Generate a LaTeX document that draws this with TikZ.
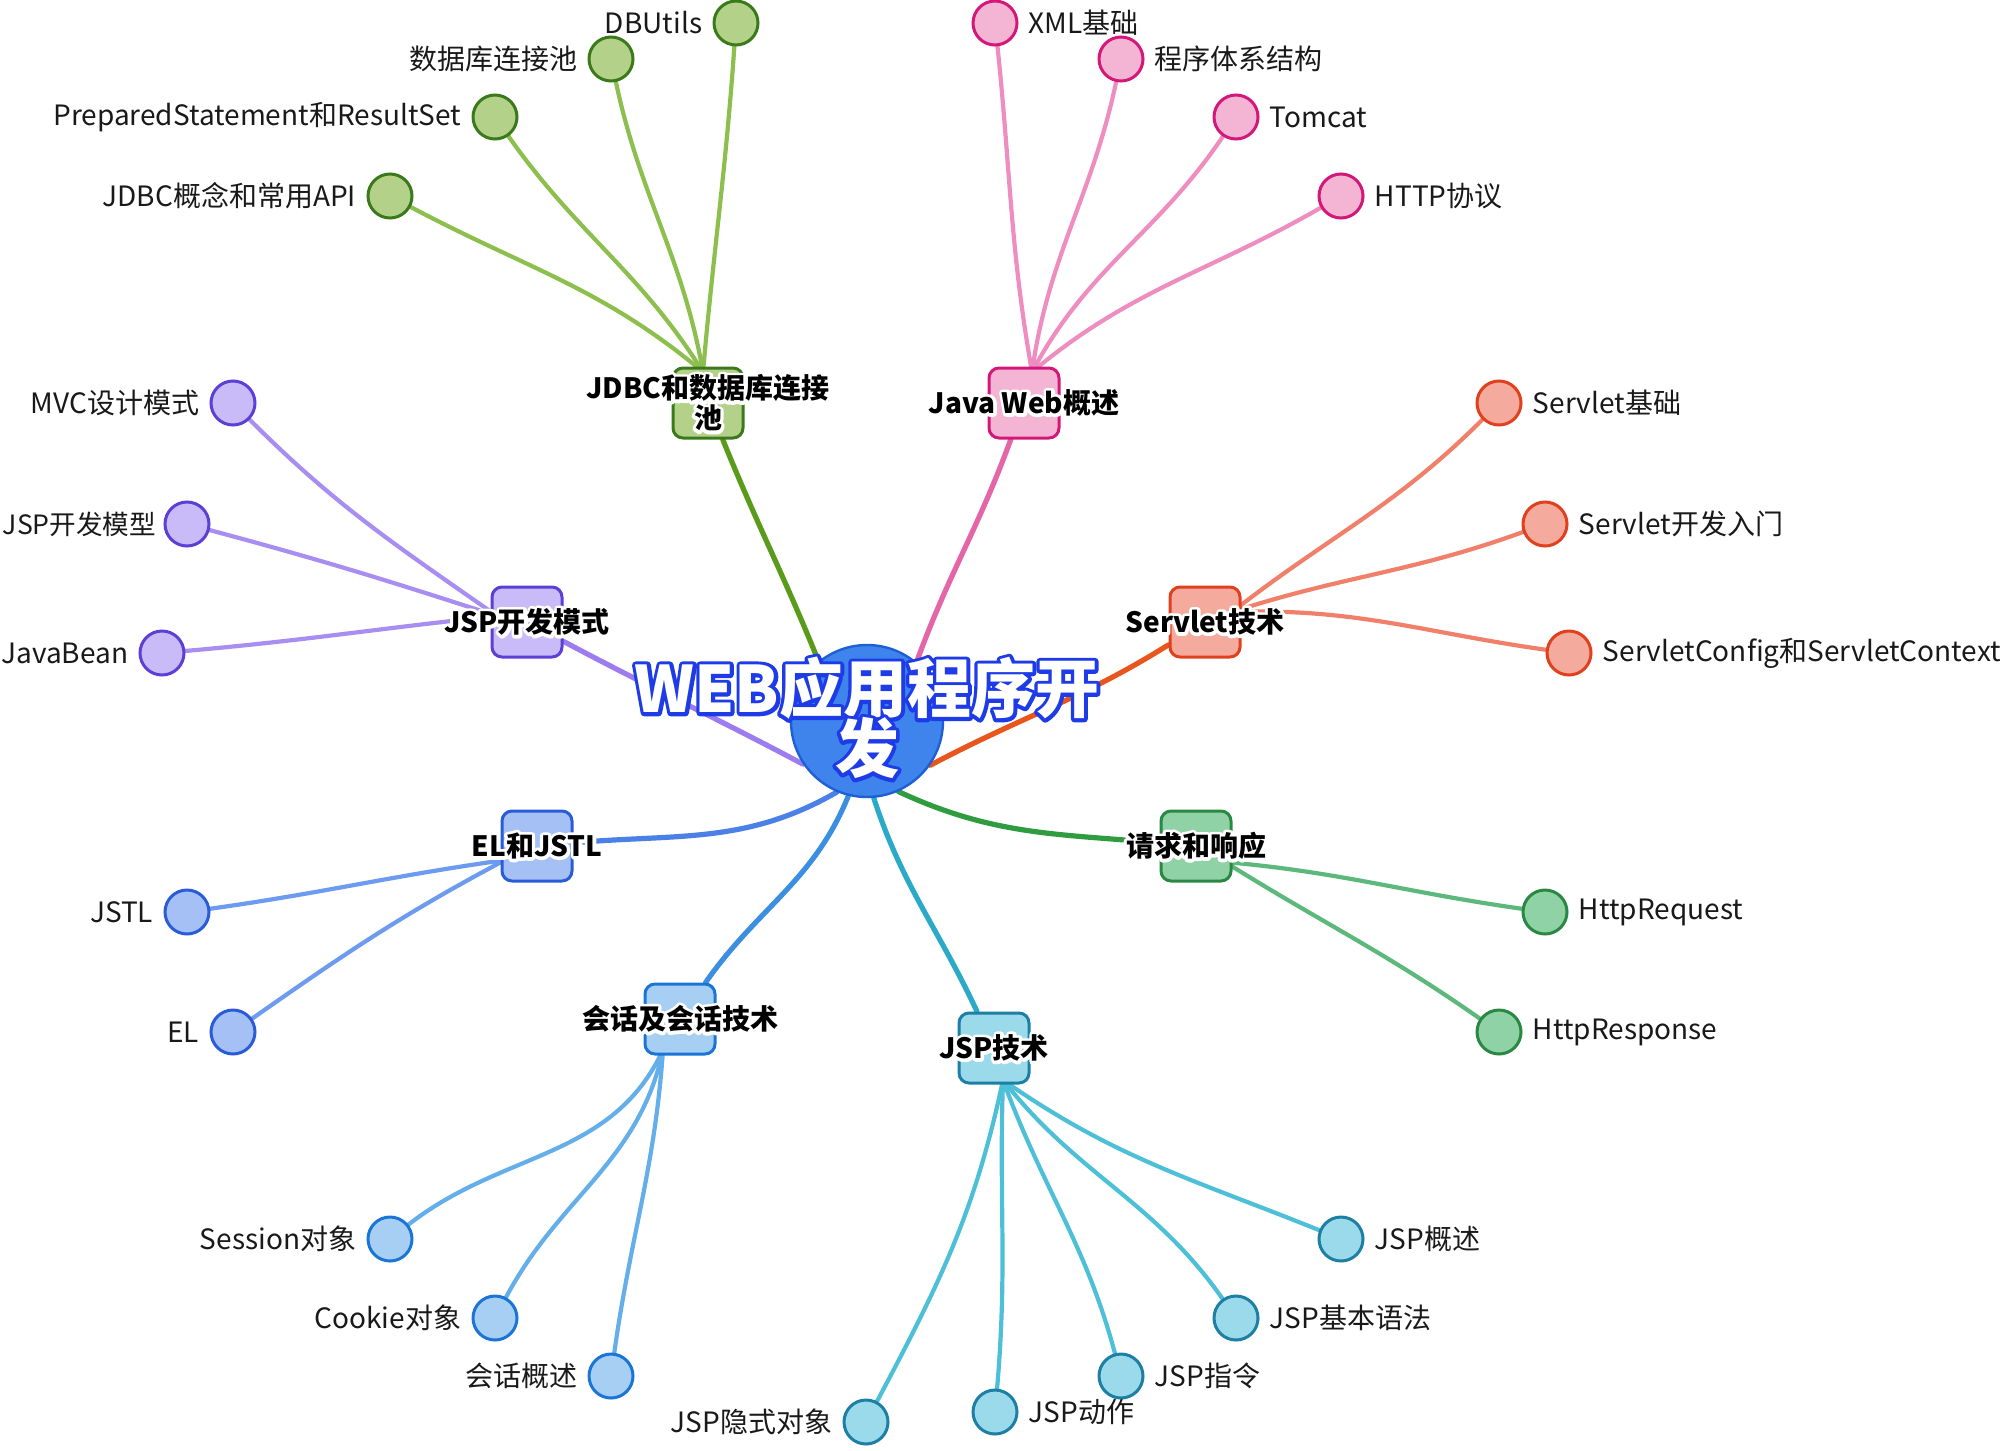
\documentclass[tikz,border=0pt]{standalone}
\usepackage{fontspec}
\setmainfont{Noto Sans CJK SC}
\usetikzlibrary{backgrounds}
\definecolor{gL}{HTML}{8DBF4F}\definecolor{gF}{HTML}{B3D188}\definecolor{gB}{HTML}{3B7A1A}\definecolor{gM}{HTML}{5B9B1C}
\definecolor{pL}{HTML}{EE8DC0}\definecolor{pF}{HTML}{F4B5D5}\definecolor{pB}{HTML}{D4187A}\definecolor{pM}{HTML}{E465A8}
\definecolor{vL}{HTML}{A98EF2}\definecolor{vF}{HTML}{C9BBF7}\definecolor{vB}{HTML}{5B3FD6}\definecolor{vM}{HTML}{9C7CEE}
\definecolor{oL}{HTML}{F0806A}\definecolor{oF}{HTML}{F4AA9C}\definecolor{oB}{HTML}{E0401E}\definecolor{oM}{HTML}{E8561E}
\definecolor{bL}{HTML}{6C9BEF}\definecolor{bF}{HTML}{A4C0F5}\definecolor{bB}{HTML}{2A5BD8}\definecolor{bM}{HTML}{4B80E6}
\definecolor{rL}{HTML}{5DB87C}\definecolor{rF}{HTML}{8ED2A5}\definecolor{rB}{HTML}{2A8843}\definecolor{rM}{HTML}{2F9C40}
\definecolor{sL}{HTML}{64AEEA}\definecolor{sF}{HTML}{A6CFF3}\definecolor{sB}{HTML}{1A75D6}\definecolor{sM}{HTML}{3C8FE0}
\definecolor{tL}{HTML}{4DC0D8}\definecolor{tF}{HTML}{9ADAEA}\definecolor{tB}{HTML}{1C7FA3}\definecolor{tM}{HTML}{2BAAC8}
\definecolor{cF}{HTML}{3F84EC}\definecolor{cB}{HTML}{1F5FD6}\definecolor{cT}{HTML}{1E3BE8}
% outlined text: stroke copy behind, normal copy on top
\newcommand{\outlined}[3]{\leavevmode\rlap{\special{pdf:literal direct q 2 Tr #2 w 1 j 1 J}\textcolor{#1}{#3}\special{pdf:literal direct Q}}#3}
\newcommand{\brtext}[1]{\outlined{white}{3.2}{#1}}
\newcommand{\cttext}[1]{\outlined{cT}{3.6}{#1}}
\begin{document}
\begin{tikzpicture}[x=0.5pt,y=0.5pt,
  leaf/.style={circle, draw=#1B, fill=#1F, line width=1.5pt, minimum size=22pt, inner sep=0pt},
  brbox/.style={rounded corners=5pt, draw=#1B, fill=#1F, line width=1.5pt, minimum size=35pt, inner sep=0pt},
  lbl/.style={font=\fontsize{14}{16}\selectfont, text=black!90, inner sep=0pt},
  brl/.style={font=\fontsize{14}{15}\selectfont\bfseries, text=black, inner sep=0pt, align=center},
  sub/.style={draw=#1L, line width=2.1pt, line cap=round},
  mainl/.style={draw=#1M, line width=2.6pt, line cap=round}]
\useasboundingbox (0,0) rectangle (2000,-1450);

% centre
\node[circle, fill=cF, draw=cB, line width=1.2pt, minimum size=76pt, inner sep=0pt] (c) at (867,-721) {};

% branches
\node[brbox=g] (J) at (708,-403) {};
\node[brbox=p] (W) at (1024,-403) {};
\node[brbox=v] (P) at (527,-622) {};
\node[brbox=o] (S) at (1205,-622) {};
\node[brbox=b] (E) at (537,-846) {};
\node[brbox=r] (R) at (1196,-846) {};
\node[brbox=s] (H) at (680,-1019) {};
\node[brbox=t] (T) at (994,-1048) {};

% leaves green
\node[leaf=g] (g1) at (736,-23) {};
\node[leaf=g] (g2) at (611,-59) {};
\node[leaf=g] (g3) at (495,-117) {};
\node[leaf=g] (g4) at (390,-196) {};
% pink
\node[leaf=p] (p1) at (995,-23) {};
\node[leaf=p] (p2) at (1121,-59) {};
\node[leaf=p] (p3) at (1236,-117) {};
\node[leaf=p] (p4) at (1341,-196) {};
% purple
\node[leaf=v] (v1) at (233,-403) {};
\node[leaf=v] (v2) at (187,-524) {};
\node[leaf=v] (v3) at (162,-653) {};
% orange
\node[leaf=o] (o1) at (1499,-403) {};
\node[leaf=o] (o2) at (1545,-524) {};
\node[leaf=o] (o3) at (1569,-653) {};
% EL
\node[leaf=b] (b1) at (187,-912) {};
\node[leaf=b] (b2) at (233,-1032) {};
% request
\node[leaf=r] (r1) at (1545,-912) {};
\node[leaf=r] (r2) at (1499,-1032) {};
% session
\node[leaf=s] (s1) at (390,-1239) {};
\node[leaf=s] (s2) at (495,-1318) {};
\node[leaf=s] (s3) at (611,-1376) {};
% JSP
\node[leaf=t] (t1) at (1341,-1239) {};
\node[leaf=t] (t2) at (1236,-1318) {};
\node[leaf=t] (t3) at (1121,-1376) {};
\node[leaf=t] (t4) at (995,-1412) {};
\node[leaf=t] (t5) at (866,-1422) {};

% anchors
\coordinate (Ja) at (703,-372);
\coordinate (Wa) at (1032,-372);
\coordinate (Pa) at (497,-616);
\coordinate (Sa) at (1232,-612);
\coordinate (Ea) at (505,-860);
\coordinate (Ra) at (1225,-862);
\coordinate (Ha) at (663,-1050);
\coordinate (Ta) at (1003,-1080);

\begin{pgfonlayer}{background}
% main connectors
\draw[mainl=g] (c.129) to[out=112,in=-68] (J);
\draw[mainl=p] (c.50) to[out=70,in=-110] (W);
\draw[mainl=v] (c.214) to[out=152,in=-28] (P);
\draw[mainl=o] (c.-35) to[out=28,in=-148] (S);
\draw[mainl=b] (c.-113) to[out=-150,in=5] (E);
\draw[mainl=r] (c.-66) to[out=-25,in=175] (R);
\draw[mainl=s] (c.-104) to[out=-112,in=55] (H);
\draw[mainl=t] (c.-85) to[out=-72,in=115] (T);
% green
\draw[sub=g] (Ja) to[out=85,in=-94] (g1);
\draw[sub=g] (Ja) to[out=100,in=-78] (g2);
\draw[sub=g] (Ja) to[out=122,in=-55] (g3);
\draw[sub=g] (Ja) to[out=140,in=-28] (g4);
% pink
\draw[sub=p] (Wa) to[out=100,in=-84] (p1);
\draw[sub=p] (Wa) to[out=82,in=-102] (p2);
\draw[sub=p] (Wa) to[out=62,in=-124] (p3);
\draw[sub=p] (Wa) to[out=40,in=-150] (p4);
% purple
\draw[sub=v] (Pa) to[out=145,in=-45] (v1);
\draw[sub=v] (Pa) to[out=162,in=-15] (v2);
\draw[sub=v] (Pa) to[out=186,in=5] (v3);
% orange
\draw[sub=o] (Sa) to[out=38,in=-135] (o1);
\draw[sub=o] (Sa) to[out=18,in=-160] (o2);
\draw[sub=o] (Sa) to[out=2,in=172] (o3);
% EL
\draw[sub=b] (Ea) to[out=188,in=8] (b1);
\draw[sub=b] (Ea) to[out=208,in=35] (b2);
% request
\draw[sub=r] (Ra) to[out=-5,in=172] (r1);
\draw[sub=r] (Ra) to[out=-32,in=145] (r2);
% session
\draw[sub=s] (Ha) to[out=-115,in=38] (s1);
\draw[sub=s] (Ha) to[out=-102,in=62] (s2);
\draw[sub=s] (Ha) to[out=-94,in=82] (s3);
% JSP
\draw[sub=t] (Ta) to[out=-35,in=158] (t1);
\draw[sub=t] (Ta) to[out=-52,in=125] (t2);
\draw[sub=t] (Ta) to[out=-70,in=105] (t3);
\draw[sub=t] (Ta) to[out=-92,in=85] (t4);
\draw[sub=t] (Ta) to[out=-102,in=62] (t5);
\end{pgfonlayer}

% centre text
\node[font=\fontsize{32}{32}\selectfont\bfseries, text=white, align=center, inner sep=0pt] (ct) at (867,-718)
  {\cttext{WEB应用程序开}\\[-2pt]\cttext{发}};

% branch labels
\node[brl] (Jl) at (708,-403) {\brtext{JDBC和数据库连接}\\[0pt]\brtext{池}};
\node[brl] (Wl) at (1024,-403) {\brtext{Java Web概述}};
\node[brl] (Pl) at (527,-622) {\brtext{JSP开发模式}};
\node[brl] (Sl) at (1205,-622) {\brtext{Servlet技术}};
\node[brl] (El) at (537,-846) {\brtext{EL和JSTL}};
\node[brl] (Rl) at (1196,-846) {\brtext{请求和响应}};
\node[brl] (Hl) at (680,-1019) {\brtext{会话及会话技术}};
\node[brl] (Tl) at (994,-1048) {\brtext{JSP技术}};

% leaf labels
\node[lbl, anchor=east] (g1l) at ([xshift=-5pt]g1.west) {DBUtils};
\node[lbl, anchor=east] (g2l) at ([xshift=-5pt]g2.west) {数据库连接池};
\node[lbl, anchor=east] (g3l) at ([xshift=-5pt]g3.west) {PreparedStatement和ResultSet};
\node[lbl, anchor=east] (g4l) at ([xshift=-5pt]g4.west) {JDBC概念和常用API};
\node[lbl, anchor=west] (p1l) at ([xshift=5pt]p1.east) {XML基础};
\node[lbl, anchor=west] (p2l) at ([xshift=5pt]p2.east) {程序体系结构};
\node[lbl, anchor=west] (p3l) at ([xshift=5pt]p3.east) {Tomcat};
\node[lbl, anchor=west] (p4l) at ([xshift=5pt]p4.east) {HTTP协议};
\node[lbl, anchor=east] (v1l) at ([xshift=-5pt]v1.west) {MVC设计模式};
\node[lbl, anchor=east, font=\fontsize{13.3}{15}\selectfont] (v2l) at ([xshift=-3.5pt]v2.west) {JSP开发模型};
\node[lbl, anchor=east] (v3l) at ([xshift=-5pt]v3.west) {JavaBean};
\node[lbl, anchor=west] (o1l) at ([xshift=5pt]o1.east) {Servlet基础};
\node[lbl, anchor=west] (o2l) at ([xshift=5pt]o2.east) {Servlet开发入门};
\node[lbl, anchor=west] (o3l) at ([xshift=5pt]o3.east) {ServletConfig和ServletContext};
\node[lbl, anchor=east] (b1l) at ([xshift=-5pt]b1.west) {JSTL};
\node[lbl, anchor=east] (b2l) at ([xshift=-5pt]b2.west) {EL};
\node[lbl, anchor=west] (r1l) at ([xshift=5pt]r1.east) {HttpRequest};
\node[lbl, anchor=west] (r2l) at ([xshift=5pt]r2.east) {HttpResponse};
\node[lbl, anchor=east] (s1l) at ([xshift=-5pt]s1.west) {Session对象};
\node[lbl, anchor=east] (s2l) at ([xshift=-5pt]s2.west) {Cookie对象};
\node[lbl, anchor=east] (s3l) at ([xshift=-5pt]s3.west) {会话概述};
\node[lbl, anchor=west] (t1l) at ([xshift=5pt]t1.east) {JSP概述};
\node[lbl, anchor=west] (t2l) at ([xshift=5pt]t2.east) {JSP基本语法};
\node[lbl, anchor=west] (t3l) at ([xshift=5pt]t3.east) {JSP指令};
\node[lbl, anchor=west] (t4l) at ([xshift=5pt]t4.east) {JSP动作};
\node[lbl, anchor=east] (t5l) at ([xshift=-5pt]t5.west) {JSP隐式对象};
\end{tikzpicture}
\end{document}
